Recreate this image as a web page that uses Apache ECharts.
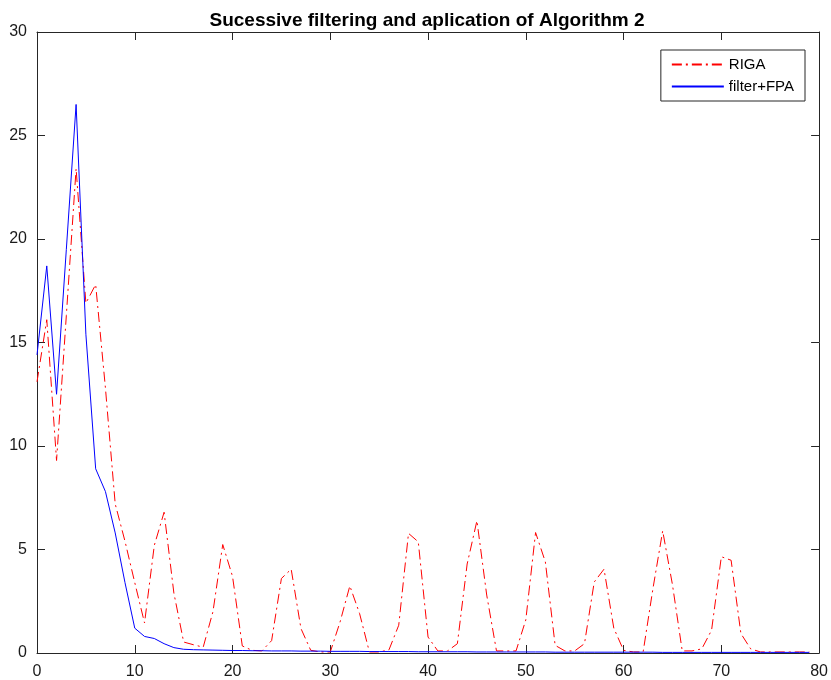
<!DOCTYPE html>
<html>
<head>
<meta charset="utf-8">
<script src="https://cdn.jsdelivr.net/npm/echarts@6/dist/echarts.min.js"></script>
<style>
html, body { margin: 0; padding: 0; background: #fff; }
#chart { width: 831px; height: 680px; }
</style>
</head>
<body>
<div id="chart"></div>
<script>
// values, one per sample index 0..79
const riga = [
    13.1, 16.1, 9.3, 16.3, 23.4, 16.9, 17.8, 12.8, 7.2, 5.4,
    3.4, 1.45, 5.2, 6.8, 2.9, 0.53, 0.4, 0.28, 2.0, 5.24,
    3.7, 0.34, 0.13, 0.1, 0.6, 3.6, 4.05, 1.18, 0.13, 0.05,
    0.05, 1.5, 3.24, 1.9, 0.05, 0.05, 0.15, 1.34, 5.78, 5.37,
    0.77, 0.1, 0.1, 0.45, 4.3, 6.39, 2.8, 0.1, 0.1, 0.1,
    1.6, 5.82, 4.4, 0.37, 0.1, 0.1, 0.45, 3.43, 4.05, 1.2,
    0.13, 0.05, 0.05, 3.1, 5.9, 3.3, 0.1, 0.1, 0.2, 1.1,
    4.65, 4.48, 0.94, 0.2, 0.05, 0.05, 0.05, 0.05, 0.05, 0.05
];
const filterFpa = [
    14.4, 18.7, 12.5, 19.5, 26.5, 15.4, 8.9, 7.8, 5.8, 3.4,
    1.2, 0.8, 0.7, 0.45, 0.26, 0.18, 0.16, 0.15, 0.14, 0.13,
    0.12, 0.12, 0.11, 0.11, 0.1, 0.1, 0.1, 0.09, 0.09, 0.09,
    0.08, 0.08, 0.08, 0.08, 0.07, 0.07, 0.07, 0.07, 0.07, 0.06,
    0.06, 0.06, 0.06, 0.06, 0.06, 0.05, 0.05, 0.05, 0.05, 0.05,
    0.05, 0.05, 0.05, 0.04, 0.04, 0.04, 0.04, 0.04, 0.04, 0.04,
    0.04, 0.04, 0.04, 0.04, 0.03, 0.03, 0.03, 0.03, 0.03, 0.03,
    0.03, 0.03, 0.03, 0.03, 0.03, 0.03, 0.03, 0.03, 0.03, 0.03
];
const seriesNames = ['RIGA', 'filter+FPA'];
const titleText = 'Sucessive filtering and aplication of Algorithm 2';

const font = '"Liberation Sans", Arial, sans-serif';
const axisColor = '#262626';

const chart = echarts.init(document.getElementById('chart'), null, {renderer: 'canvas'});

const toPairs = arr => arr.map((v, i) => [i, v]);

function xAxisDef(pos, showLabel) {
    return {
        type: 'value', position: pos, min: 0, max: 80, interval: 10,
        axisLine: {show: true, onZero: false, lineStyle: {color: axisColor, width: 1}},
        axisTick: {show: true, inside: true, length: 8, lineStyle: {color: axisColor}},
        axisLabel: {show: showLabel, color: '#1a1a1a', fontSize: 16, fontFamily: font, margin: 11},
        splitLine: {show: false}
    };
}
function yAxisDef(pos, showLabel) {
    return {
        type: 'value', position: pos, min: 0, max: 30, interval: 5,
        axisLine: {show: true, onZero: false, lineStyle: {color: axisColor, width: 1}},
        axisTick: {show: true, inside: true, length: 8, lineStyle: {color: axisColor}},
        axisLabel: {show: showLabel, color: '#1a1a1a', fontSize: 16, fontFamily: font, margin: 10},
        splitLine: {show: false}
    };
}

const option = {
    backgroundColor: '#ffffff',
    animation: false,
    title: {
        text: titleText,
        left: 422, top: 6, textAlign: 'center',
        textStyle: {fontSize: 19, fontWeight: 'bold', color: '#000', fontFamily: font}
    },
    legend: {
        orient: 'vertical',
        right: 26, top: 50,
        padding: [7, 11, 7, 10],
        itemGap: 7,
        itemWidth: 52, itemHeight: 14,
        backgroundColor: '#fff',
        borderColor: axisColor, borderWidth: 1,
        itemStyle: {opacity: 0},
        textStyle: {fontSize: 15, color: '#000', fontFamily: font},
        data: seriesNames
    },
    grid: {left: 37, right: 10, top: 32, bottom: 27, containLabel: false},
    xAxis: [xAxisDef('bottom', true), xAxisDef('top', false)],
    yAxis: [yAxisDef('left', true), yAxisDef('right', false)],
    series: [
        {
            name: seriesNames[0], type: 'line', data: toPairs(riga),
            showSymbol: false, symbol: 'none',
            lineStyle: {color: '#ff0000', width: 1, type: [10, 4, 2, 4]},
            itemStyle: {color: '#ff0000'},
            z: 2
        },
        {
            name: seriesNames[1], type: 'line', data: toPairs(filterFpa),
            showSymbol: false, symbol: 'none',
            lineStyle: {color: '#0000ff', width: 1},
            itemStyle: {color: '#0000ff'},
            z: 3
        }
    ]
};

chart.setOption(option);
</script>
</body>
</html>
